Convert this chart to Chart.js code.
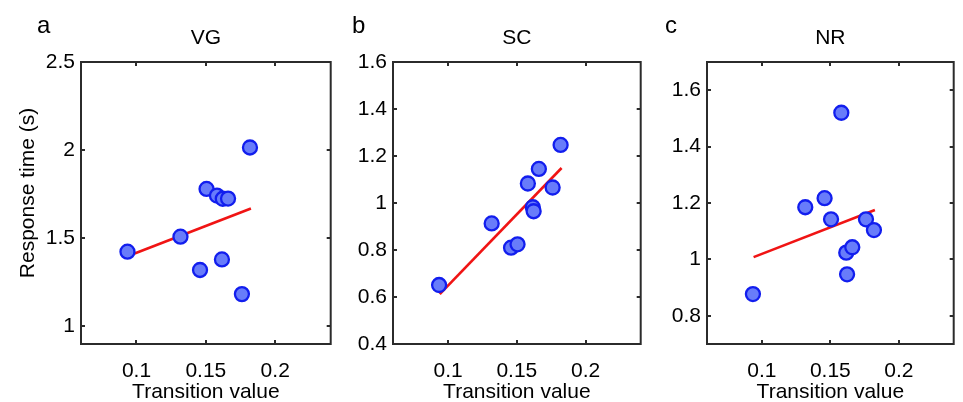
<!DOCTYPE html>
<html>
<head>
<meta charset="utf-8">
<script src="https://cdn.jsdelivr.net/npm/chart.js@4.4.1/dist/chart.umd.min.js"></script>
<style>
  body { margin: 0; background: #fff; }
  .panel { position: absolute; top: 0; }
</style>
</head>
<body>
<canvas id="vg" class="panel" width="340" height="402" style="left:0px"></canvas>
<canvas id="sc" class="panel" width="310" height="402" style="left:340px"></canvas>
<canvas id="nr" class="panel" width="313" height="402" style="left:650px"></canvas>
<script>
// transition value of each subject (shared by the three panels)
const transition = [0.0935, 0.1317, 0.1458, 0.1505, 0.158, 0.1616, 0.1622, 0.166, 0.176, 0.1818];

// response times (s)
const rtVG = [1.424, 1.509, 1.320, 1.780, 1.742, 1.380, 1.724, 1.725, 1.183, 2.015];
const rtSC = [0.651, 0.913, 0.810, 0.824, 1.083, 0.982, 0.965, 1.145, 1.066, 1.247];
const rtNR = [0.877, 1.185, 1.217, 1.142, 1.520, 1.024, 0.947, 1.043, 1.142, 1.104];

// regression line end points
const fitX = [0.094, 0.1825];
const fitVG = [1.399, 1.669];
const fitSC = [0.612, 1.149];
const fitNR = [1.008, 1.175];

const xTicks = [0.1, 0.15, 0.2];
const yTicksVG = [1, 1.5, 2, 2.5];
const yTicksSC = [0.4, 0.6, 0.8, 1, 1.2, 1.4, 1.6];
const yTicksNR = [0.8, 1, 1.2, 1.4, 1.6];

const FONT = "'Liberation Sans', Arial, sans-serif";
const AXIS = '#2b2b2b';

// box round the axes with inward ticks on all four sides
const framePlugin = {
    id: 'frame',
    afterDraw(chart) {
        const { ctx, chartArea: a, scales } = chart;
        const len = 4;
        ctx.save();
        ctx.strokeStyle = AXIS;
        ctx.lineWidth = 2;
        ctx.beginPath();
        scales.x.ticks.forEach(t => {
            const px = Math.round(scales.x.getPixelForValue(t.value));
            ctx.moveTo(px, a.bottom); ctx.lineTo(px, a.bottom - len);
            ctx.moveTo(px, a.top); ctx.lineTo(px, a.top + len);
        });
        scales.y.ticks.forEach(t => {
            const py = Math.round(scales.y.getPixelForValue(t.value));
            ctx.moveTo(a.left, py); ctx.lineTo(a.left + len, py);
            ctx.moveTo(a.right, py); ctx.lineTo(a.right - len, py);
        });
        ctx.stroke();
        ctx.strokeRect(a.left, a.top, a.right - a.left, a.bottom - a.top);
        ctx.restore();
    }
};

// panel letter, title, x label and (first panel only) the y label
const panelTextPlugin = {
    id: 'panelText',
    afterDraw(chart, args, opts) {
        const { ctx, chartArea: a } = chart;
        const cx = (a.left + a.right) / 2;
        ctx.save();
        ctx.fillStyle = '#000';
        ctx.textBaseline = 'alphabetic';
        ctx.font = '24px ' + FONT;
        ctx.textAlign = 'left';
        ctx.fillText(opts.letter, opts.letterX, 33);
        ctx.font = '21px ' + FONT;
        ctx.textAlign = 'center';
        ctx.fillText(opts.title, cx, 44);
        ctx.fillText(opts.xLabel, cx, 398);
        if (opts.yLabel) {
            ctx.translate(28, 193);
            ctx.rotate(-Math.PI / 2);
            ctx.textBaseline = 'middle';
            ctx.fillText(opts.yLabel, 0, 0);
        }
        ctx.restore();
    }
};

function makePanel(id, letter, letterX, title, values, fit, yMin, yMax, yTicks, yWidth, padRight, yLabel) {
    const points = transition.map((x, i) => ({ x, y: values[i] }));
    const line = fitX.map((x, i) => ({ x, y: fit[i] }));
    new Chart(document.getElementById(id), {
        type: 'scatter',
        data: {
            datasets: [
                {
                    data: points,
                    pointRadius: 7,
                    pointBorderWidth: 2.3,
                    backgroundColor: 'rgb(104,124,250)',
                    borderColor: 'rgb(18,30,238)',
                },
                {
                    data: line,
                    showLine: true,
                    pointRadius: 0,
                    borderColor: 'rgb(240,20,20)',
                    borderWidth: 2.6,
                }
            ]
        },
        options: {
            responsive: false,
            animation: false,
            devicePixelRatio: 1,
            layout: { padding: { top: 62, right: padRight, bottom: 0, left: 0 } },
            plugins: {
                legend: { display: false },
                tooltip: { enabled: false },
                panelText: { letter, letterX, title, yLabel, xLabel: 'Transition value' }
            },
            scales: {
                x: {
                    type: 'linear',
                    min: 0.06,
                    max: 0.24,
                    afterBuildTicks: s => { s.ticks = xTicks.map(v => ({ value: v })); },
                    afterFit: s => { s.height = 58; },
                    grid: { display: false, drawTicks: false },
                    border: { display: false },
                    ticks: { color: '#000', font: { family: FONT, size: 21 }, padding: 15, maxRotation: 0, callback: v => String(v) },
                    title: { display: false }
                },
                y: {
                    type: 'linear',
                    min: yMin,
                    max: yMax,
                    afterBuildTicks: s => { s.ticks = yTicks.map(v => ({ value: v })); },
                    afterFit: s => { s.width = yWidth; },
                    grid: { display: false, drawTicks: false },
                    border: { display: false },
                    ticks: { color: '#000', font: { family: FONT, size: 21 }, padding: 6, callback: v => String(v) },
                    title: { display: false }
                }
            }
        },
        plugins: [framePlugin, panelTextPlugin]
    });
}

makePanel('vg', 'a', 37, 'VG', rtVG, fitVG, 0.9, 2.5, yTicksVG, 81, 5, 'Response time (s)');
makePanel('sc', 'b', 12, 'SC', rtSC, fitSC, 0.4, 1.6, yTicksSC, 53, 2, null);
makePanel('nr', 'c', 15, 'NR', rtNR, fitNR, 0.7, 1.7, yTicksNR, 57, 2, null);
</script>
</body>
</html>
